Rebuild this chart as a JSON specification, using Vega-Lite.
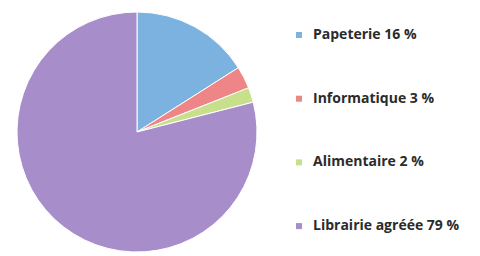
{
  "$schema": "https://vega.github.io/schema/vega-lite/v6.json",
  "width": 240,
  "height": 242,
  "autosize": "none",
  "padding": {"left": 17, "top": 11, "right": 223, "bottom": 3},
  "background": "white",
  "view": {"stroke": null},
  "data": {"values": [
    {"categorie": "Papeterie 16 %", "part": 16, "ordre": 1},
    {"categorie": "Informatique 3 %", "part": 3, "ordre": 2},
    {"categorie": "Alimentaire 2 %", "part": 2, "ordre": 3},
    {"categorie": "Librairie agréée 79 %", "part": 79, "ordre": 4}
  ]},
  "mark": {"type": "arc", "outerRadius": 120, "stroke": "white", "strokeWidth": 1},
  "encoding": {
    "theta": {"field": "part", "type": "quantitative", "stack": true},
    "order": {"field": "ordre", "type": "quantitative"},
    "color": {
      "field": "categorie",
      "type": "nominal",
      "scale": {
        "domain": ["Papeterie 16 %", "Informatique 3 %", "Alimentaire 2 %", "Librairie agréée 79 %"],
        "range": ["#7cb2e0", "#ee8587", "#c8e08c", "#a78dca"]
      },
      "legend": {
        "title": null,
        "orient": "none",
        "legendX": 275,
        "legendY": 17,
        "symbolType": "square",
        "symbolSize": 36,
        "symbolStrokeWidth": 0,
        "labelFont": "Open Sans",
        "labelFontWeight": "bold",
        "labelFontSize": 14,
        "labelColor": "#2b2b2b",
        "labelOffset": 7,
        "rowPadding": 49.7,
        "labelLimit": 300
      }
    }
  }
}
